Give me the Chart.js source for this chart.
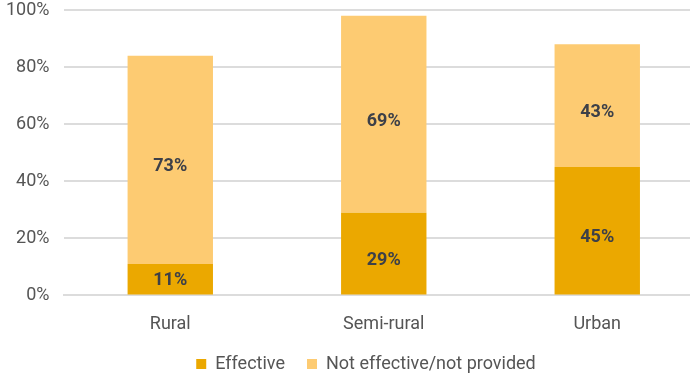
<!DOCTYPE html>
<html>
<head>
<meta charset="utf-8">
<script src="https://cdn.jsdelivr.net/npm/chart.js@4"></script>
<style>
  html, body { margin: 0; padding: 0; background: #fff; }
  #wrap { width: 690px; height: 374px; overflow: hidden; }
</style>
</head>
<body>
<div id="wrap"><canvas id="chart" width="704" height="374" style="width:704px;height:374px"></canvas></div>
<script>
const categories = ['Rural', 'Semi-rural', 'Urban'];
const effective = [11, 29, 45];
const notEffective = [73, 69, 43];
const yTicks = [0, 20, 40, 60, 80, 100];

const darkGold = '#EBA800';
const lightGold = '#FDCB72';

// draws the % value in the middle of each bar piece
const barLabels = {
  id: 'barLabels',
  afterDatasetsDraw(chart) {
    const ctx = chart.ctx;
    ctx.save();
    ctx.font = 'bold 18px Roboto';
    ctx.fillStyle = '#3d4048';
    ctx.textAlign = 'center';
    ctx.textBaseline = 'middle';
    chart.data.datasets.forEach((ds, i) => {
      chart.getDatasetMeta(i).data.forEach((bar, j) => {
        const h = bar.base - bar.y;
        const off = Math.min(7, (h - 27) / 2);
        ctx.fillText(ds.data[j] + '%', bar.x, bar.y + h / 2 + off);
      });
    });
    ctx.restore();
  }
};

// legend sits a bit right of canvas centre in the original
const legendShift = {
  id: 'legendShift',
  afterLayout(chart) {
    chart.legend.left += 18;
    chart.legend.right += 18;
  }
};

new Chart(document.getElementById('chart'), {
  type: 'bar',
  data: {
    labels: categories,
    datasets: [
      { label: 'Effective', data: effective, backgroundColor: darkGold },
      { label: 'Not effective/not provided', data: notEffective, backgroundColor: lightGold }
    ]
  },
  options: {
    responsive: false,
    animation: false,
    barPercentage: 0.4,
    categoryPercentage: 1,
    layout: { padding: { top: 10, left: -8, right: 0, bottom: -9 } },
    font: { family: 'Roboto', size: 18 },
    scales: {
      x: {
        stacked: true,
        grid: { display: false, drawTicks: false },
        border: { color: '#dcdcdc', width: 2 },
        ticks: { color: '#555', padding: 18, font: { family: 'Roboto', size: 18 } },
        afterFit(axis) { axis.height -= 20; }
      },
      y: {
        stacked: true,
        min: 0,
        max: 100,
        afterBuildTicks(axis) { axis.ticks = yTicks.map(v => ({ value: v })); },
        afterFit(axis) { axis.paddingTop = 0; },
        grid: { color: '#dcdcdc', lineWidth: 2, drawTicks: false },
        border: { display: false },
        ticks: { color: '#555', padding: 14, font: { family: 'Roboto', size: 18 }, callback: v => v + '%' }
      }
    },
    plugins: {
      legend: {
        position: 'bottom',
        labels: { boxWidth: 10, boxHeight: 10, padding: 22, color: '#555', font: { family: 'Roboto', size: 18 } }
      },
      tooltip: { enabled: false }
    }
  },
  plugins: [barLabels, legendShift]
});
</script>
</body>
</html>
